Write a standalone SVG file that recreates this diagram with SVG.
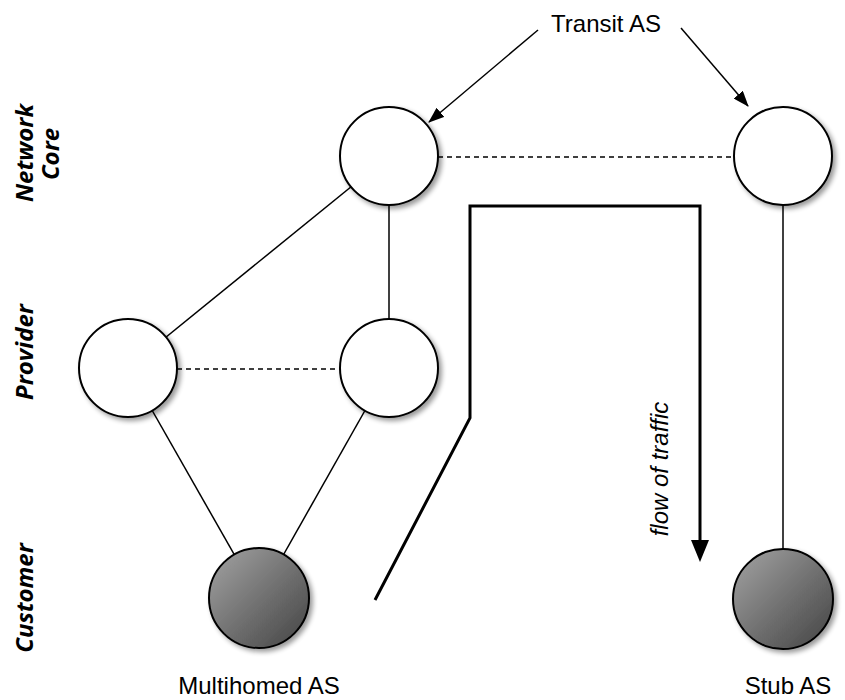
<svg xmlns="http://www.w3.org/2000/svg" width="845" height="700" viewBox="0 0 845 700">
<style>
.lbl{font-family:"Liberation Sans",Arial,sans-serif;font-size:24px;fill:#000}
.tier{font-family:"Open Sans","DejaVu Sans",sans-serif;font-size:24px;font-weight:bold;font-style:italic;fill:#000}
.edge{stroke:#000;stroke-width:1.5;fill:none}
.dash{stroke:#000;stroke-width:1.5;stroke-dasharray:5,4;fill:none}
.node{stroke:#000;stroke-width:2}
</style>
<defs>
<linearGradient id="g" x1="0" y1="0" x2="1" y2="1">
<stop offset="0" stop-color="#a4a4a4"/>
<stop offset="1" stop-color="#424242"/>
</linearGradient>
<filter id="sh" x="-20%" y="-20%" width="150%" height="150%">
<feGaussianBlur in="SourceAlpha" stdDeviation="2.5"/>
<feOffset dx="3" dy="3" result="b"/>
<feComponentTransfer><feFuncA type="linear" slope="0.4"/></feComponentTransfer>
<feMerge><feMergeNode/><feMergeNode in="SourceGraphic"/></feMerge>
</filter>
<marker id="ah" markerWidth="16" markerHeight="12" refX="15" refY="6" orient="auto" markerUnits="userSpaceOnUse">
<path d="M0,0 L16,6 L0,12 Z" fill="#000"/>
</marker>
<marker id="big" markerWidth="22" markerHeight="18" refX="2" refY="9" orient="auto" markerUnits="userSpaceOnUse">
<path d="M0,0 L22,9 L0,18 Z" fill="#000"/>
</marker>
</defs>
<g id="connectors">
<line class="edge" x1="389" y1="156" x2="128" y2="368"/>
<line class="edge" x1="389" y1="156" x2="389" y2="368"/>
<line class="edge" x1="128" y1="368" x2="259" y2="598"/>
<line class="edge" x1="389" y1="368" x2="259" y2="598"/>
<line class="edge" x1="783" y1="156" x2="783" y2="599"/>
<line class="dash" x1="438" y1="157" x2="734" y2="157"/>
<line class="dash" x1="177" y1="369" x2="340" y2="369"/>
<line class="edge" x1="538" y1="30" x2="429" y2="122" marker-end="url(#ah)"/>
<line class="edge" x1="681" y1="28" x2="748" y2="106" marker-end="url(#ah)"/>
<polyline id="traffic" points="375,600 470,418 470,206 700,206 700,542" fill="none" stroke="#000" stroke-width="3" marker-end="url(#big)"/>
</g>
<g id="core-left"><circle class="node" cx="389" cy="156" r="49" fill="#fff" filter="url(#sh)"/></g>
<g id="core-right"><circle class="node" cx="783" cy="156" r="49" fill="#fff" filter="url(#sh)"/></g>
<g id="provider-left"><circle class="node" cx="128" cy="368" r="49" fill="#fff" filter="url(#sh)"/></g>
<g id="provider-right"><circle class="node" cx="389" cy="368" r="49" fill="#fff" filter="url(#sh)"/></g>
<g id="multihomed"><circle class="node" cx="259" cy="598" r="50" fill="url(#g)" filter="url(#sh)"/>
<text class="lbl" x="259" y="694" text-anchor="middle">Multihomed AS</text></g>
<g id="stub"><circle class="node" cx="783" cy="599" r="50" fill="url(#g)" filter="url(#sh)"/>
<text class="lbl" x="788" y="694" text-anchor="middle">Stub AS</text></g>
<text class="lbl" x="606" y="32" text-anchor="middle" font-size="25">Transit AS</text>
<text class="lbl" transform="translate(668,469) rotate(-90)" text-anchor="middle" font-style="italic" font-size="20.5">flow of traffic</text>
<text class="tier" transform="translate(33,153) rotate(-90)" text-anchor="middle">Network</text>
<text class="tier" transform="translate(59,154) rotate(-90)" text-anchor="middle">Core</text>
<text class="tier" transform="translate(33,352) rotate(-90)" text-anchor="middle">Provider</text>
<text class="tier" transform="translate(33,598) rotate(-90)" text-anchor="middle">Customer</text>
</svg>
